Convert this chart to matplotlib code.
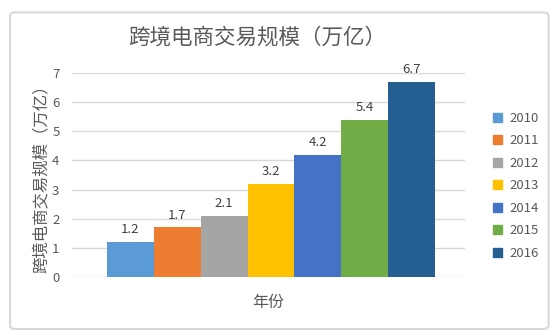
import matplotlib.pyplot as plt
from matplotlib.patches import FancyBboxPatch, Patch

plt.rcParams['font.family'] = ['Noto Sans CJK SC', 'DejaVu Sans']

# 数据
years = ["2010", "2011", "2012", "2013", "2014", "2015", "2016"]
values = [1.2, 1.7, 2.1, 3.2, 4.2, 5.4, 6.7]
colors = ["#5B9BD5", "#ED7D31", "#A5A5A5", "#FFC000", "#4472C4", "#70AD47", "#255E91"]

text_color = "#595959"
grid_color = "#D9D9D9"

fig = plt.figure(figsize=(5.58, 3.35), dpi=100)
ax = fig.add_axes([0.129, 0.173, 0.704, 0.609])

pos = list(range(len(years)))
bars = ax.bar(pos, values, width=1.0, color=colors, zorder=3)
for b, v in zip(bars, values):
    ax.text(b.get_x() + b.get_width() / 2, v + 0.2, "{:.1f}".format(v),
            ha="center", va="bottom", fontsize=9.5, color="#404040")

ax.set_xlim(-1.25, 7.14)
ax.set_ylim(0, 7)
ax.set_yticks(range(0, 8))
ax.set_xticks([])
ax.grid(axis="y", color=grid_color, linewidth=1, zorder=0)
for s in ax.spines.values():
    s.set_visible(False)
ax.tick_params(axis="y", length=0, labelsize=9.5, labelcolor=text_color, pad=9)

ax.set_ylabel("跨境电商交易规模（万亿）", fontsize=11.8, color=text_color, labelpad=2)
ax.set_xlabel("年份", fontsize=11.5, color=text_color, labelpad=12)
fig.text(0.461, 0.887, "跨境电商交易规模（万亿）", ha="center", va="center",
         fontsize=15.5, color=text_color)

handles = [Patch(facecolor=c, edgecolor=c) for c in colors]
leg = fig.legend(handles, years, loc="center left", bbox_to_anchor=(0.862, 0.445),
                 frameon=False, fontsize=9.5, handlelength=0.7, handleheight=0.7,
                 handletextpad=0.55, labelspacing=0.72, labelcolor=text_color)

border = FancyBboxPatch((0.018, 0.018), 0.965, 0.945, transform=fig.transFigure,
                        boxstyle="round,pad=0,rounding_size=0.01",
                        facecolor="none", edgecolor=grid_color, linewidth=1.5)
fig.patches.append(border)

fig.savefig("out.png", dpi=100)
